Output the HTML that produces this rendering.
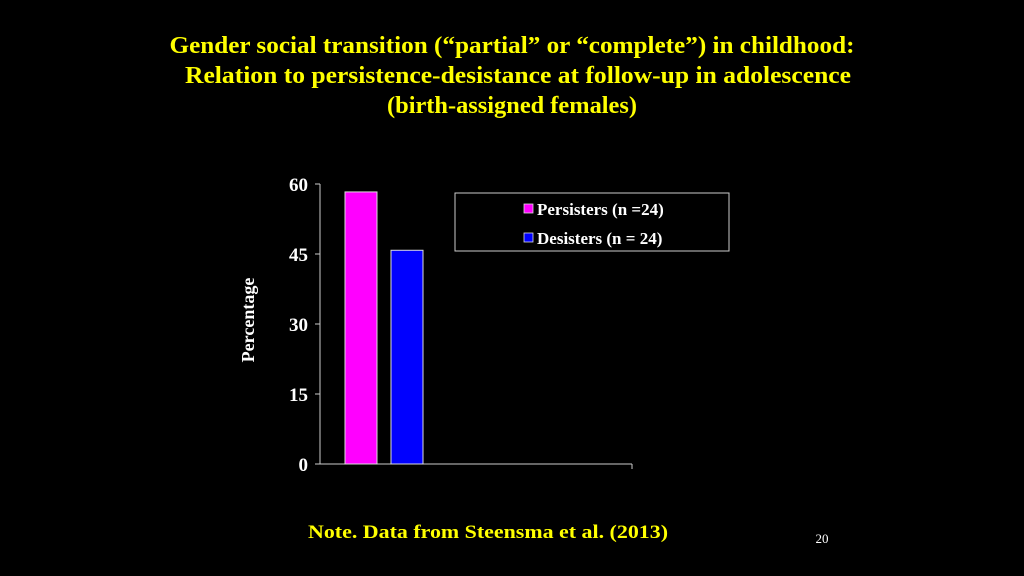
<!DOCTYPE html>
<html><head><meta charset="utf-8"><style>
body{margin:0;width:1024px;height:576px;background:#000;overflow:hidden;font-family:"Liberation Serif",serif;}
svg{display:block;}
</style></head><body>
<svg width="1024" height="576" xmlns="http://www.w3.org/2000/svg">
<g font-family="Liberation Serif, serif" font-weight="bold" fill="#ffff00" text-anchor="middle" font-size="24">
<text x="512" y="53" textLength="685" lengthAdjust="spacingAndGlyphs">Gender social transition (“partial” or “complete”) in childhood:</text>
<text x="518" y="83" textLength="666" lengthAdjust="spacingAndGlyphs">Relation to persistence-desistance at follow-up in adolescence</text>
<text x="512" y="113" textLength="250" lengthAdjust="spacingAndGlyphs">(birth-assigned females)</text>
</g>
<g id="chart"></g>
<text x="488" y="538" font-size="19" font-weight="bold" fill="#ffff00" text-anchor="middle" textLength="360" lengthAdjust="spacingAndGlyphs">Note. Data from Steensma et al. (2013)</text>
<text x="822" y="543" font-size="13" fill="#ffffff" text-anchor="middle">20</text>
</svg>
<script>
const categories = ["Persisters (n =24)", "Desisters (n = 24)"];
const values = [58.3, 45.8];
const colors = ["#ff00ff", "#0000ff"];
const ticks = [0, 15, 30, 45, 60];
const NS = "http://www.w3.org/2000/svg";
const g = document.getElementById("chart");
const x0 = 320, x1 = 632, yBase = 464, yTop = 184, yMax = 60;
const y = v => yBase - (v / yMax) * (yBase - yTop);
function mk(tag, attrs){const e=document.createElementNS(NS,tag);for(const k in attrs)e.setAttribute(k,attrs[k]);g.appendChild(e);return e;}
let ax = mk("line",{x1:x0,y1:yTop,x2:x0,y2:yBase,stroke:"#ccc","stroke-width":1});


let bx = mk("line",{x1:x0-5,y1:yBase,x2:x1,y2:yBase,stroke:"#ccc","stroke-width":1});


let et = mk("line",{x1:x1,y1:yBase,x2:x1,y2:yBase+5,stroke:"#ccc","stroke-width":1});


ticks.forEach(t=>{
  const l = mk("line",{x1:x0-5,y1:y(t),x2:x0,y2:y(t),stroke:"#ccc","stroke-width":1});
  
  
  const tx = mk("text",{x:x0-12,y:y(t)+7,"font-size":19,"font-weight":"bold",fill:"#fff","text-anchor":"end"});
  tx.textContent = t;
  
  
});
const yt = mk("text",{x:0,y:0,"font-size":18,"font-weight":"bold",fill:"#fff","text-anchor":"middle",transform:"translate(254,320) rotate(-90)"});
yt.textContent = "Percentage";


const barW = 32, gap = 14, start = 345;
values.forEach((v,i)=>{
  const bx0 = start + i*(barW+gap);
  const r = mk("rect",{x:bx0,y:y(v),width:barW,height:yBase-y(v),fill:colors[i],stroke:"#ddd","stroke-width":1});
  
  
});
const lg = mk("rect",{x:455,y:193,width:274,height:58,fill:"none",stroke:"#ccc","stroke-width":1});


categories.forEach((c,i)=>{
  const ly = 209 + i*29;
  const sw = mk("rect",{x:524,y:ly-5,width:9,height:9,fill:colors[i],stroke:"#ddd","stroke-width":0.8});
  
  
  const t = mk("text",{x:537,y:ly+6,"font-size":17,"font-weight":"bold",fill:"#fff"});
  t.textContent = c;
  
  
});
</script>
</body></html>
